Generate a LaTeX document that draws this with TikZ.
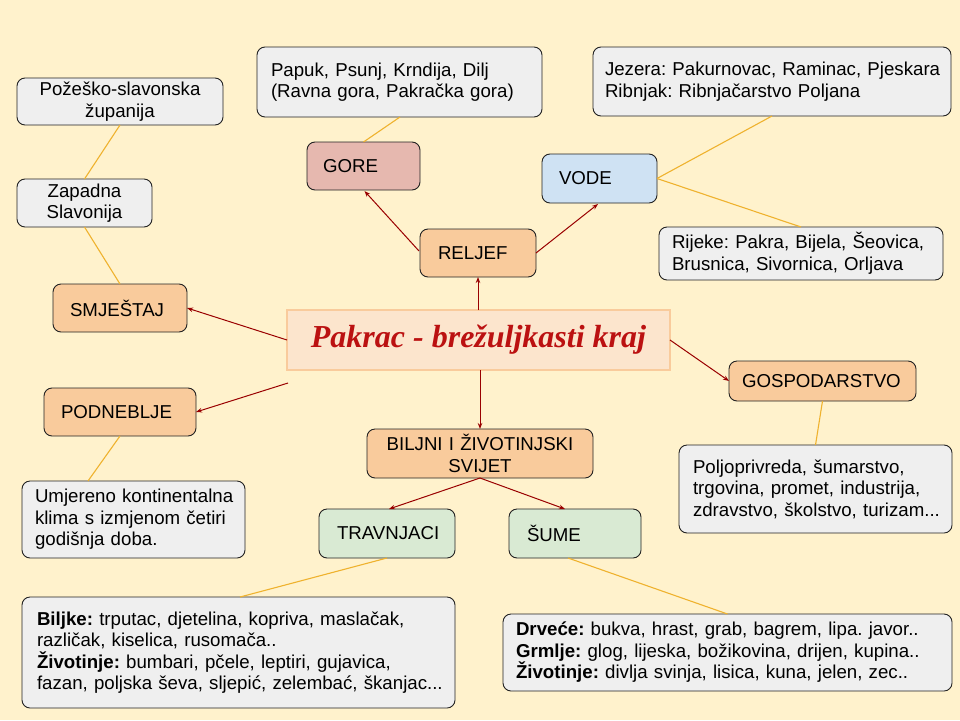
\documentclass[tikz,border=0pt]{standalone}
\usepackage{fontspec}
\setmainfont{Liberation Sans}
\newfontfamily\titlefont{Liberation Serif}
\usetikzlibrary{calc,arrows.meta}
\frenchspacing
\definecolor{bg}{HTML}{FFF2CC}
\definecolor{grayfill}{HTML}{EFEFEF}
\definecolor{orfill}{HTML}{F9CB9C}
\definecolor{redfill}{HTML}{E6B8AF}
\definecolor{bluefill}{HTML}{CFE2F3}
\definecolor{greenfill}{HTML}{D9EAD3}
\definecolor{titlefill}{HTML}{FCE5CD}
\definecolor{titleborder}{HTML}{F9CB9C}
\definecolor{titletext}{HTML}{BB1111}
\definecolor{boxline}{HTML}{222222}
\definecolor{arrowred}{HTML}{990000}
\definecolor{goldline}{HTML}{EFB22E}
\newcommand{\bodyfont}{\fontsize{18.67pt}{21.5pt}\selectfont}
\tikzset{
  box/.style={draw=boxline, line width=0.9pt, rounded corners=8pt, inner ysep=0pt, outer sep=0pt, font=\bodyfont, align=left},
  cbox/.style={box, align=center},
  gray/.style={fill=grayfill},
  orb/.style={fill=orfill},
  arr/.style={draw=arrowred, line width=1pt, -{Stealth[length=6pt,width=4.5pt]}},
  gold/.style={draw=goldline, line width=1.1pt},
}
\begin{document}
\frenchspacing
\begin{tikzpicture}[x=1pt,y=-1pt]
\fill[bg] (0,0) rectangle (960,720);
% nodes
\node[cbox,gray,minimum height=47pt,text width=190pt,inner xsep=8pt] (pz) at (120,101.5) {Požeško-slavonska\\županija};
\node[cbox,gray,minimum height=48pt,text width=119pt,inner xsep=8pt] (zs) at (84.5,203) {Zapadna\\Slavonija};
\node[box,orb,minimum height=48pt,text width=100pt,inner xsep=17pt] (smj) at (120,308) {SMJEŠTAJ};
\node[box,orb,minimum height=48pt,text width=118pt,inner xsep=17pt] (pod) at (120,412) {PODNEBLJE};
\node[box,gray,minimum height=77pt,text width=197pt,inner xsep=13pt] (umj) at (133.5,519.5) {\mbox{Umjereno kontinentalna}\\\mbox{klima s izmjenom četiri}\\godišnja doba.};
\node[box,gray,minimum height=70pt,text width=257pt,inner xsep=14pt] (pap) at (399.5,82) {\mbox{Papuk, Psunj, Krndija, Dilj}\\\mbox{(Ravna gora, Pakračka gora)}};
\node[box,fill=redfill,minimum height=48pt,text width=81pt,inner xsep=16pt] (gore) at (363.5,166) {GORE};
\node[box,fill=bluefill,minimum height=49pt,text width=81pt,inner xsep=17pt] (vode) at (599.5,178.5) {VODE};
\node[box,orb,minimum height=48pt,text width=80pt,inner xsep=18pt] (rel) at (478,253) {RELJEF};
\node[box,gray,minimum height=69pt,text width=334pt,inner xsep=12pt] (jez) at (772,81.5) {\mbox{Jezera: Pakurnovac, Raminac, Pjeskara}\\\mbox{Ribnjak: Ribnjačarstvo Poljana}};
\node[box,gray,minimum height=53pt,text width=258pt,inner xsep=13pt] (rij) at (801,253.5) {\mbox{Rijeke: Pakra, Bijela, Šeovica,}\\\mbox{Brusnica, Sivornica, Orljava}};
\node[fill=titlefill,draw=titleborder,line width=2.5pt,minimum width=383pt,minimum height=60pt,inner sep=0pt,outer sep=0pt,text=titletext,font=\titlefont\bfseries\itshape\fontsize{32pt}{36pt}\selectfont] (title) at (478.5,340) {Pakrac - brežuljkasti kraj};
\node[box,orb,minimum height=40pt,text width=161pt,inner xsep=13pt] (gosp) at (822.5,381) {GOSPODARSTVO};
\node[box,gray,minimum height=88pt,text width=245pt,inner xsep=14pt] (polj) at (815.5,489) {\mbox{Poljoprivreda, šumarstvo,}\\\mbox{trgovina, promet, industrija,}\\\mbox{zdravstvo, školstvo, turizam...}};
\node[cbox,orb,minimum height=49pt,text width=210pt,inner xsep=8pt] (bil) at (480,453.5) {BILJNI I ŽIVOTINJSKI\\SVIJET};
\node[box,fill=greenfill,minimum height=49pt,text width=100pt,inner xsep=18pt] (trav) at (387,533.5) {TRAVNJACI};
\node[box,fill=greenfill,minimum height=49pt,text width=96pt,inner xsep=18pt] (sume) at (575,533.5) {ŠUME};
\node[box,gray,minimum height=111pt,text width=403pt,inner xsep=15pt] (bilj) at (238.5,652.5) {\mbox{\textbf{Biljke:} trputac, djetelina, kopriva, maslačak,}\\\mbox{različak, kiselica, rusomača..}\\\mbox{\textbf{Životinje:} bumbari, pčele, leptiri, gujavica,}\\\mbox{fazan, poljska ševa, sljepić, zelembać, škanjac...}};
\node[box,gray,minimum height=77pt,text width=423pt,inner xsep=13pt] (drv) at (727.5,652.5) {\mbox{\textbf{Drveće:} bukva, hrast, grab, bagrem, lipa. javor..}\\\mbox{\textbf{Grmlje:} glog, lijeska, božikovina, drijen, kupina..}\\\mbox{\textbf{Životinje:} divlja svinja, lisica, kuna, jelen, zec..}};
% red arrows
\draw[arr] (title.west) -- (smj.east);
\draw[arr] ($(title.south west)+(1,13)$) -- (pod.east);
\draw[arr] ($(title.north)+(-0.5,0)$) -- (rel.south);
\draw[arr] (bil.north |- title.south) -- (bil.north);
\draw[arr] (title.east) -- (gosp.west);
\draw[arr] ($(rel.west)+(-1,-2)$) -- ($(gore.south)+(1,1)$);
\draw[arr] (rel.east) -- ($(vode.south)+(-1.5,1)$);
\draw[arr] (bil.south) -- ($(trav.north)+(2,0)$);
\draw[arr] (bil.south) -- ($(sume.north)+(-10,0)$);
% gold lines
\draw[gold] (pz.south) -- (zs.north);
\draw[gold] (zs.south) -- (smj.north);
\draw[gold] (gore.north) -- ($(pap.south)+(0.5,0)$);
\draw[gold] (vode.east) -- (jez.south);
\draw[gold] (vode.east) -- (rij.north);
\draw[gold] (gosp.south) -- (polj.north);
\draw[gold] (pod.south) -- ($(umj.north)+(-45.5,0)$);
\draw[gold] (trav.south) -- ($(bilj.north)+(1.5,0)$);
\draw[gold] ($(sume.south)+(-7,0)$) -- (drv.north);
\end{tikzpicture}
\end{document}
